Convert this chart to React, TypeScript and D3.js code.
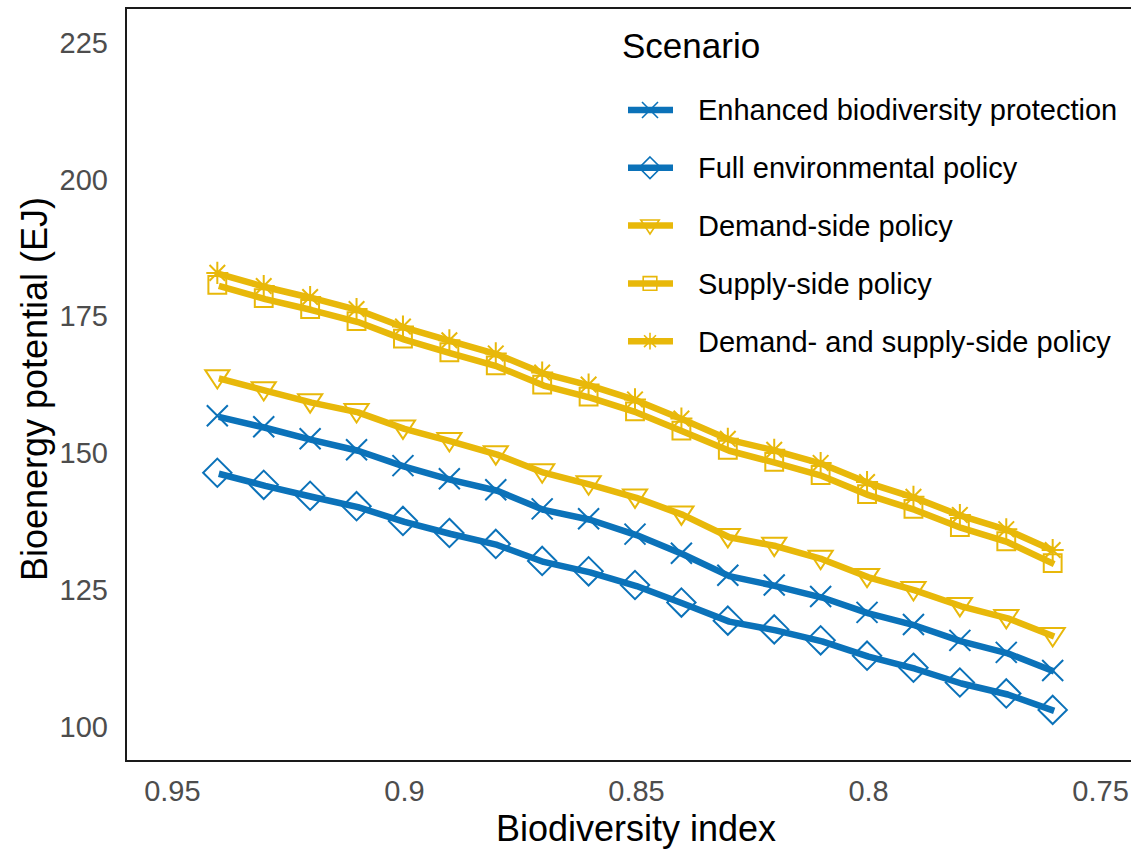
import React, { useEffect, useRef } from 'react';
import * as d3 from 'd3';

// biodiversity index of each scenario run
const biodiversityIndex = [0.94, 0.93, 0.92, 0.91, 0.9, 0.89, 0.88, 0.87, 0.86, 0.85, 0.84, 0.83, 0.82, 0.81, 0.8, 0.79, 0.78, 0.77, 0.76];

// bioenergy potential (EJ) per scenario
const enhancedProtection = [156.6, 154.6, 152.4, 150.4, 147.5, 145.1, 143.1, 139.6, 137.8, 135.0, 131.5, 127.5, 125.7, 123.6, 120.7, 118.5, 115.6, 113.4, 110.1];
const fullEnvironmental = [146.2, 144.0, 142.0, 140.1, 137.4, 135.2, 133.2, 130.1, 128.2, 125.7, 122.5, 119.2, 117.6, 115.6, 112.8, 110.6, 107.9, 105.9, 102.9];
const demandSide = [163.6, 161.4, 159.2, 157.4, 154.4, 152.1, 149.7, 146.4, 144.2, 141.8, 138.7, 134.6, 133.0, 130.6, 127.3, 124.9, 122.0, 119.8, 116.5];
const supplySide = [180.5, 178.1, 176.1, 173.9, 170.7, 168.2, 165.8, 162.3, 160.1, 157.4, 153.9, 150.4, 148.2, 145.8, 142.3, 139.6, 136.3, 133.7, 129.7];
const demandSupply = [182.7, 180.3, 178.3, 176.1, 172.9, 170.4, 168.0, 164.5, 162.3, 159.6, 156.1, 152.4, 150.4, 148.0, 144.5, 141.8, 138.5, 135.9, 132.1];

const scenarioNames = [
  'Enhanced biodiversity protection',
  'Full environmental policy',
  'Demand-side policy',
  'Supply-side policy',
  'Demand- and supply-side policy',
];
const scenarioValues = [enhancedProtection, fullEnvironmental, demandSide, supplySide, demandSupply];
const scenarioShapes = ['cross', 'diamond', 'triangleDown', 'square', 'asterisk'];

const xTicks = [0.95, 0.9, 0.85, 0.8, 0.75];
const yTicks = [100, 125, 150, 175, 200, 225];

const BLUE = '#0b72b9';
const YELLOW = '#e8b80a';
const scenarioColors = [BLUE, BLUE, YELLOW, YELLOW, YELLOW];

const FONT = '"Liberation Sans", Arial, sans-serif';

// marker outline path centred on 0,0
const markerPath = (shape: string, s: number) => {
  const h = s / 2;
  switch (shape) {
    case 'cross':
      return `M${-h},${-h}L${h},${h}M${-h},${h}L${h},${-h}`;
    case 'diamond':
      return `M0,${-h * 1.35}L${h * 1.35},0L0,${h * 1.35}L${-h * 1.35},0Z`;
    case 'triangleDown':
      return `M${-h * 1.15},${-h * 0.7}L${h * 1.15},${-h * 0.7}L0,${h * 1.05}Z`;
    case 'square':
      return `M${-h * 0.85},${-h * 0.85}H${h * 0.85}V${h * 0.85}H${-h * 0.85}Z`;
    default: {
      const r = h * 1.05;
      const d = r * Math.SQRT1_2;
      return `M${-r},0H${r}M0,${-r}V${r}M${-d},${-d}L${d},${d}M${-d},${d}L${d},${-d}`;
    }
  }
};

const Chart = () => {
  const ref = useRef<SVGSVGElement>(null);

  useEffect(() => {
    const svg = d3.select(ref.current);
    svg.selectAll('*').remove();

    const left = 126;
    const top = 8;
    const bottom = 761;

    const x = d3.scaleLinear().domain([0.96, 0.74]).range([left, 1147]);
    const y = d3.scaleLinear().domain([93.75, 231.25]).range([bottom, top]);

    // panel border (right side falls outside the picture)
    svg.append('path')
      .attr('d', `M1140,${top}H${left}V${bottom}H1140`)
      .attr('fill', 'none')
      .attr('stroke', '#1a1a1a')
      .attr('stroke-width', 2);

    svg.append('g')
      .selectAll('text')
      .data(xTicks)
      .join('text')
      .attr('x', d => x(d))
      .attr('y', 801)
      .attr('text-anchor', 'middle')
      .attr('font-family', FONT)
      .attr('font-size', 29)
      .attr('fill', '#4d4d4d')
      .text(d => String(d));

    svg.append('g')
      .selectAll('text')
      .data(yTicks)
      .join('text')
      .attr('x', 108)
      .attr('y', d => y(d))
      .attr('dy', '0.36em')
      .attr('text-anchor', 'end')
      .attr('font-family', FONT)
      .attr('font-size', 29)
      .attr('fill', '#4d4d4d')
      .text(d => String(d));

    svg.append('text')
      .attr('x', 636)
      .attr('y', 841)
      .attr('text-anchor', 'middle')
      .attr('font-family', FONT)
      .attr('font-size', 36)
      .attr('fill', '#000')
      .text('Biodiversity index');

    svg.append('text')
      .attr('transform', 'translate(47,389) rotate(-90)')
      .attr('text-anchor', 'middle')
      .attr('font-family', FONT)
      .attr('font-size', 36)
      .attr('fill', '#000')
      .text('Bioenergy potential (EJ)');

    const line = d3.line<number>()
      .x((_, i) => x(biodiversityIndex[i]))
      .y(d => y(d));

    const plot = svg.append('g');
    scenarioValues.forEach((vals, k) => {
      plot.append('path')
        .datum(vals)
        .attr('d', line)
        .attr('fill', 'none')
        .attr('stroke', scenarioColors[k])
        .attr('stroke-width', 6.5)
        .attr('stroke-linejoin', 'round');
    });
    scenarioValues.forEach((vals, k) => {
      plot.append('g')
        .selectAll('path')
        .data(vals)
        .join('path')
        .attr('transform', (d, i) => `translate(${x(biodiversityIndex[i]) - 1.5},${y(d) - 1})`)
        .attr('d', markerPath(scenarioShapes[k], 21))
        .attr('fill', 'none')
        .attr('stroke', scenarioColors[k])
        .attr('stroke-width', 2);
    });

    // legend
    const legend = svg.append('g');
    legend.append('text')
      .attr('x', 622)
      .attr('y', 58)
      .attr('font-family', FONT)
      .attr('font-size', 35)
      .attr('fill', '#000')
      .text('Scenario');

    const rows = legend.selectAll('g.row')
      .data(scenarioNames)
      .join('g')
      .attr('class', 'row')
      .attr('transform', (_, i) => `translate(0,${110 + i * 57.8})`);
    rows.append('line')
      .attr('x1', 628).attr('x2', 673)
      .attr('stroke', (_, i) => scenarioColors[i])
      .attr('stroke-width', 6.5);
    rows.append('path')
      .attr('transform', 'translate(650,0)')
      .attr('d', (_, i) => markerPath(scenarioShapes[i], 16))
      .attr('fill', 'none')
      .attr('stroke', (_, i) => scenarioColors[i])
      .attr('stroke-width', 1.6);
    rows.append('text')
      .attr('x', 698)
      .attr('dy', '0.36em')
      .attr('font-family', FONT)
      .attr('font-size', 29)
      .attr('fill', '#000')
      .text(d => d);
  }, []);

  return (
    <svg
      ref={ref}
      width={1131}
      height={852}
      style={{ position: 'absolute', left: 0, top: 0, background: '#fff' }}
    />
  );
};

export default function App() {
  return <Chart />;
}
